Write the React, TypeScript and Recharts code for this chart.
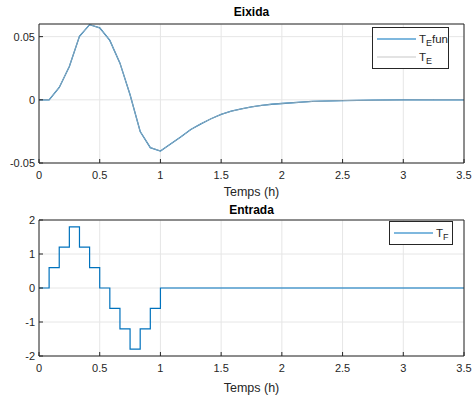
import React from 'react';
import {
  LineChart, Line, XAxis, YAxis, CartesianGrid, Label
} from 'recharts';

// output (Eixida) - sample times in hours
const outTimes = [
  0, 0.0833, 0.1667, 0.25, 0.3333, 0.4167, 0.5, 0.5833, 0.6667, 0.75, 0.8333, 0.9167,
  1.0, 1.0833, 1.1667, 1.25, 1.3333, 1.4167, 1.5, 1.5833, 1.6667, 1.75, 1.8333, 1.9167,
  2.0, 2.25, 2.5, 2.75, 3.0, 3.25, 3.5,
];
const teFun = [
  0, 0, 0.0098, 0.0264, 0.0503, 0.0595, 0.0569, 0.047, 0.029, 0.004, -0.0251, -0.0378,
  -0.0405, -0.035, -0.0295, -0.0235, -0.019, -0.015, -0.0115, -0.009, -0.0072, -0.0056, -0.0044, -0.0035,
  -0.0029, -0.0013, -0.0006, -0.0003, -0.0001, 0, 0,
];
const teVals = [
  0, 0, 0.0098, 0.0264, 0.0503, 0.0595, 0.0569, 0.047, 0.029, 0.004, -0.0251, -0.0378,
  -0.0405, -0.035, -0.0295, -0.0235, -0.019, -0.015, -0.0115, -0.009, -0.0072, -0.0056, -0.0044, -0.0035,
  -0.0029, -0.0013, -0.0006, -0.0003, -0.0001, 0, 0,
];

// input (Entrada) - step changes
const inTimes = [0, 0.0833, 0.1667, 0.25, 0.3333, 0.4167, 0.5, 0.5833, 0.6667, 0.75, 0.8333, 0.9167, 1.0, 3.5];
const tfVals = [0, 0.6, 1.2, 1.8, 1.2, 0.6, 0, -0.6, -1.2, -1.8, -1.2, -0.6, 0, 0];

const xTicks = [0, 0.5, 1, 1.5, 2, 2.5, 3, 3.5];
const outTicks = [-0.05, 0, 0.05];
const inTicks = [-2, -1, 0, 1, 2];

const outData = outTimes.map((t, i) => ({ t, fun: teFun[i], te: teVals[i] }));
const inData = inTimes.map((t, i) => ({ t, tf: tfVals[i] }));

const BLUE = '#0072BD';
const GREY = '#b4b4b4';
const AX = '#262626';
const FONT = 'Liberation Sans, Arial, sans-serif';
const tickStyle = { fontSize: 11, fill: AX, fontFamily: FONT };
const labelStyle = { fontSize: 12.5, fill: AX, fontFamily: FONT };

const fmt = (v: number) => String(v);

// legend drawn by hand, placed over the plot like matlab does
const LegendBox = ({ items, left, top, width }: {
  items: { sub: string; suffix?: string; color: string }[]; left: number; top: number; width: number;
}) => (
  <div style={{
    position: 'absolute', left, top, width, border: '1px solid #262626', background: '#fff',
    boxSizing: 'border-box', padding: '2px 0 2px 4px', fontFamily: FONT, fontSize: 11.5, color: AX,
  }}>
    {items.map((it, i) => (
      <div key={i} style={{ display: 'flex', alignItems: 'center', height: 18 }}>
        <svg width={39} height={4} style={{ marginRight: 3 }}>
          <line x1={0} y1={2} x2={39} y2={2} stroke={it.color} strokeWidth={1.2} />
        </svg>
        <span style={{ lineHeight: '12px' }}>
          T<sub style={{ fontSize: 9, verticalAlign: -3, lineHeight: 0 }}>{it.sub}</sub>{it.suffix || ''}
        </span>
      </div>
    ))}
  </div>
);

const Title = ({ text, top }: { text: string; top: number }) => (
  <div style={{
    position: 'absolute', left: 39, width: 425, top, textAlign: 'center',
    fontFamily: FONT, fontSize: 12, fontWeight: 'bold', color: '#000',
  }}>{text}</div>
);

export default function App() {
  return (
    <div style={{ position: 'absolute', left: 0, top: 0, width: 475, height: 398, background: '#fff' }}>
      <Title text="Eixida" top={5} />
      <div style={{ position: 'absolute', left: 0, top: 0 }}>
        <LineChart width={475} height={200} data={outData} margin={{ top: 23, right: 0, bottom: 0, left: 0 }}>
          <CartesianGrid stroke="#e6e6e6" />
          <XAxis dataKey="t" type="number" domain={[0, 3.5]} ticks={xTicks} height={37}
            tickSize={-4} tickMargin={12} stroke={AX} tick={tickStyle} tickFormatter={fmt}>
            <Label value="Temps (h)" position="insideBottom" offset={4} style={labelStyle} />
          </XAxis>
          <XAxis xAxisId="top" orientation="top" dataKey="t" type="number" domain={[0, 3.5]} ticks={xTicks}
            height={1} tickSize={-4} stroke={AX} tick={false} />
          <YAxis type="number" domain={[-0.05, 0.06]} ticks={outTicks} width={39}
            tickSize={-4} tickMargin={8} stroke={AX} tick={tickStyle} tickFormatter={fmt} />
          <YAxis yAxisId="right" orientation="right" type="number" domain={[-0.05, 0.06]} ticks={outTicks}
            width={11} tickSize={-4} stroke={AX} tick={false} />
          <Line dataKey="fun" stroke={BLUE} strokeWidth={1.3} dot={false} isAnimationActive={false} />
          <Line dataKey="te" stroke={GREY} strokeWidth={1} strokeOpacity={0.8} dot={false} isAnimationActive={false} />
        </LineChart>
      </div>
      <LegendBox left={372} top={27} width={77} items={[
        { sub: 'E', suffix: 'fun', color: BLUE },
        { sub: 'E', color: '#c8c8c8' },
      ]} />

      <Title text="Entrada" top={203} />
      <div style={{ position: 'absolute', left: 0, top: 200 }}>
        <LineChart width={475} height={198} data={inData} margin={{ top: 19, right: 0, bottom: 0, left: 0 }}>
          <CartesianGrid stroke="#e6e6e6" />
          <XAxis dataKey="t" type="number" domain={[0, 3.5]} ticks={xTicks} height={42}
            tickSize={-4} tickMargin={12} stroke={AX} tick={tickStyle} tickFormatter={fmt}>
            <Label value="Temps (h)" position="insideBottom" offset={6} style={labelStyle} />
          </XAxis>
          <XAxis xAxisId="top" orientation="top" dataKey="t" type="number" domain={[0, 3.5]} ticks={xTicks}
            height={1} tickSize={-4} stroke={AX} tick={false} />
          <YAxis type="number" domain={[-2, 2]} ticks={inTicks} width={39}
            tickSize={-4} tickMargin={8} stroke={AX} tick={tickStyle} tickFormatter={fmt} />
          <YAxis yAxisId="right" orientation="right" type="number" domain={[-2, 2]} ticks={inTicks}
            width={11} tickSize={-4} stroke={AX} tick={false} />
          <Line type="stepAfter" dataKey="tf" stroke={BLUE} strokeWidth={1.2} dot={false} isAnimationActive={false} />
        </LineChart>
      </div>
      <LegendBox left={389} top={221} width={64} items={[{ sub: 'F', color: BLUE }]} />
    </div>
  );
}
